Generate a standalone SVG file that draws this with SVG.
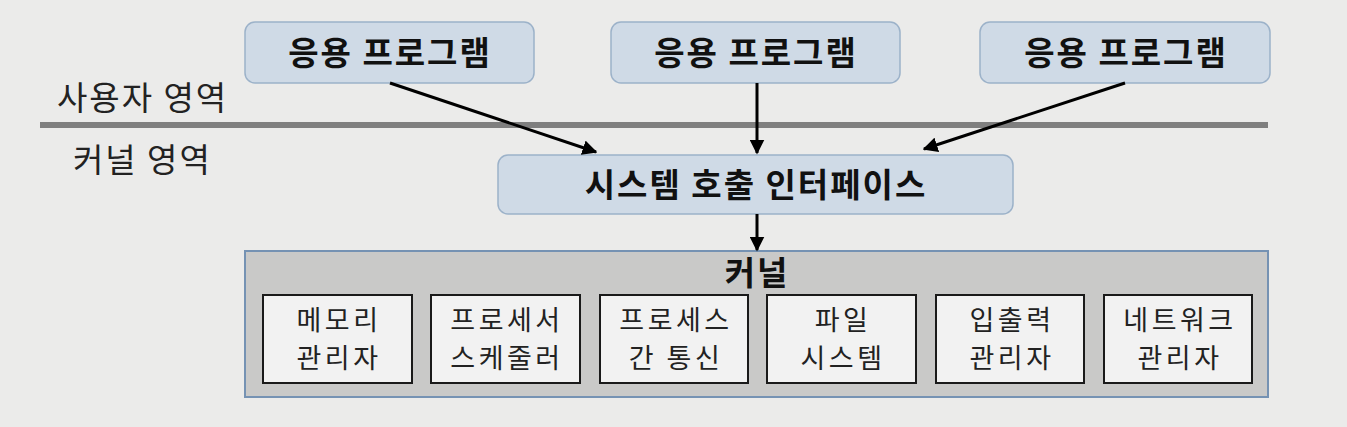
<svg xmlns="http://www.w3.org/2000/svg" width="1347" height="427" viewBox="0 0 1347 427">
<style>
.bg{fill:#ebebea}
.app{fill:#cfdae6;stroke:#9cb2c9;stroke-width:1.5}
.bt{font-family:"Noto Sans CJK KR","Noto Sans",sans-serif;font-weight:bold;font-size:33px;letter-spacing:2px;fill:#111;text-anchor:middle}
.lt{font-family:"Noto Sans CJK KR","Noto Sans",sans-serif;font-size:33px;letter-spacing:2px;fill:#222}
.mod{fill:#f2f2f2;stroke:#1a1a1a;stroke-width:2}
.mt{font-family:"Noto Sans CJK KR","Noto Sans",sans-serif;font-size:27px;letter-spacing:3.5px;fill:#222;text-anchor:middle}
.ar{stroke:#000;stroke-width:3;fill:none;marker-end:url(#ah)}
</style>
<defs>
<marker id="ah" viewBox="0 0 10 10" refX="9" refY="5" markerWidth="5" markerHeight="5" orient="auto" markerUnits="strokeWidth">
<path d="M0,0 L10,5 L0,10 z" fill="#000"/>
</marker>
</defs>
<rect class="bg" x="0" y="0" width="1347" height="427"/>
<g id="labels">
<text class="lt" x="57" y="110">사용자 영역</text>
<line x1="40" y1="125" x2="1268" y2="125" stroke="#7f7f7f" stroke-width="6"/>
<text class="lt" x="73" y="172">커널 영역</text>
</g>
<g id="app1"><rect class="app" x="245" y="22" width="289" height="61" rx="10"/><text class="bt" x="390" y="65">응용 프로그램</text></g>
<g id="app2"><rect class="app" x="611" y="22" width="289" height="61" rx="10"/><text class="bt" x="756" y="65">응용 프로그램</text></g>
<g id="app3"><rect class="app" x="980" y="22" width="290" height="61" rx="10"/><text class="bt" x="1126" y="65">응용 프로그램</text></g>
<g id="syscall"><rect class="app" x="498" y="155" width="515" height="59" rx="10" stroke="#6f8aa8"/><text class="bt" x="756" y="197">시스템 호출 인터페이스</text></g>
<g id="kernel">
<rect x="245" y="251" width="1023" height="146" fill="#c9c9c8" stroke="#7592b3" stroke-width="2"/>
<text class="bt" x="757" y="285">커널</text>
</g>
<g id="mem"><rect class="mod" x="263" y="295" width="149" height="88"/><text class="mt"><tspan x="339" y="330">메모리</tspan><tspan x="339" y="368">관리자</tspan></text></g>
<g id="sched"><rect class="mod" x="431" y="295" width="149" height="88"/><text class="mt"><tspan x="507" y="330">프로세서</tspan><tspan x="507" y="368">스케줄러</tspan></text></g>
<g id="ipc"><rect class="mod" x="600" y="295" width="148" height="88"/><text class="mt"><tspan x="676" y="330">프로세스</tspan><tspan x="676" y="368">간 통신</tspan></text></g>
<g id="fs"><rect class="mod" x="767" y="295" width="149" height="88"/><text class="mt"><tspan x="843" y="330">파일</tspan><tspan x="843" y="368">시스템</tspan></text></g>
<g id="io"><rect class="mod" x="936" y="295" width="148" height="88"/><text class="mt"><tspan x="1012" y="330">입출력</tspan><tspan x="1012" y="368">관리자</tspan></text></g>
<g id="net"><rect class="mod" x="1104" y="295" width="148" height="88"/><text class="mt"><tspan x="1180" y="330">네트워크</tspan><tspan x="1180" y="368">관리자</tspan></text></g>
<g id="connectors">
<line class="ar" x1="390" y1="83" x2="596" y2="152"/>
<line class="ar" x1="757" y1="83" x2="757" y2="153"/>
<line class="ar" x1="1125" y1="83" x2="924" y2="149"/>
<line class="ar" x1="757" y1="214" x2="757" y2="250"/>
</g>
</svg>
